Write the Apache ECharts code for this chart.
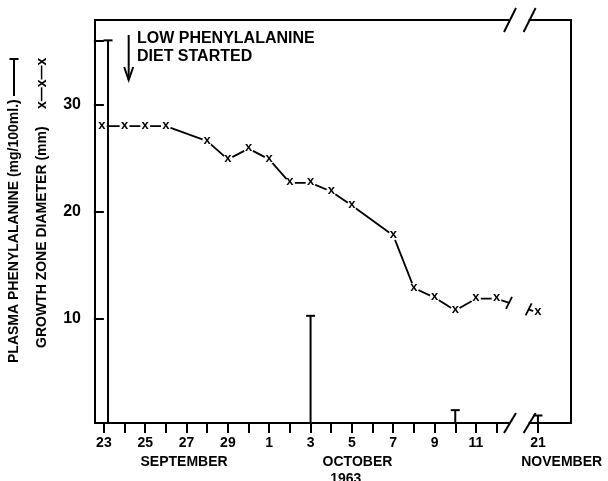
<!DOCTYPE html>
<html><head><meta charset="utf-8">
<script src="https://cdn.jsdelivr.net/npm/echarts@6/dist/echarts.min.js"></script>
<style>html,body{margin:0;padding:0;background:#fff}#c{width:608px;height:481px}</style>
</head><body><div id="c"></div>
<script>
// ---- data (x in day index: 0 = Sep 23, 8 = Oct 1, axis break after Oct 12, 21 = Nov 21) ----
const tickDays = [0,1,2,3,4,5,6,7,8,9,10,11,12,13,14,15,16,17,18,19,21];
const xLabelDays = [0,2,4,6,8,10,12,14,16,18,21];
const xLabelTexts = ['23','25','27','29','1','3','5','7','9','11','21'];
const yTickValues = [10,20,30,36];
const yLabelValues = [10,20,30];
const growthDays = [-0.1,1,2,3,5,6,7,8,9,10,11,12,14,15,16,17,18,19,21];
const growthMM = [28,28,28,28,26.6,24.9,25.9,24.9,22.7,22.7,21.9,20.6,17.8,12.9,12.0,10.8,11.9,11.9,10.6];
const pheDays = [0.2,10,17,21];
const pheValues = [36,10.3,1.5,1.0];
const monthNames = ['SEPTEMBER','OCTOBER','NOVEMBER'];
const monthCenters = [3.88,12.27,22.15];
const yearText = '1963';
const yearCenter = 11.7;
const breakStart = 19.6, breakEnd = 20.55;

(function(){
const FONT = '"Liberation Sans", Arial, sans-serif';
const chart = echarts.init(document.getElementById('c'), null, {renderer:'canvas'});
const X_MIN = -0.43, X_MAX = 22.6, Y_MIN = 0.3, Y_MAX = 37.9;

chart.setOption({
  animation:false,
  backgroundColor:'#fff',
  grid:{left:95,right:37,top:20,bottom:58,show:true,borderColor:'#000',borderWidth:2,backgroundColor:'transparent'},
  xAxis:{type:'value',min:X_MIN,max:X_MAX,
    axisLine:{show:false},
    splitLine:{show:false},
    axisTick:{show:true,customValues:tickDays,length:10,lineStyle:{color:'#000',width:2}},
    axisLabel:{customValues:xLabelDays,formatter:v=>xLabelTexts[xLabelDays.indexOf(v)],
      color:'#000',fontSize:14,fontWeight:'bold',fontFamily:FONT,margin:13}},
  yAxis:{type:'value',min:Y_MIN,max:Y_MAX,
    axisLine:{show:false},
    splitLine:{show:false},
    axisTick:{show:true,customValues:yTickValues,length:10,lineStyle:{color:'#000',width:2}},
    axisLabel:{customValues:yLabelValues,color:'#000',fontSize:16,fontWeight:'bold',fontFamily:FONT,margin:14}},
  series:[
    {type:'line',data:growthDays.map((d,i)=>[d,growthMM[i]]),
      symbol:'circle',symbolSize:10,itemStyle:{color:'#fff',borderWidth:0},
      lineStyle:{color:'#000',width:1.8},
      label:{show:true,position:'inside',formatter:'x',color:'#000',fontSize:13,fontWeight:'bold',fontFamily:FONT,offset:[0,-1]},
      z:3},
    {type:'custom',data:pheDays.map((d,i)=>[d,pheValues[i]]),
      renderItem:(params,api)=>{
        const x=api.value(0), v=api.value(1);
        const p0=api.coord([x,Y_MIN]), p1=api.coord([x,v]);
        return {type:'group',children:[
          {type:'line',shape:{x1:p0[0],y1:p0[1],x2:p1[0],y2:p1[1]},style:{stroke:'#000',lineWidth:2}},
          {type:'line',shape:{x1:p1[0]-4.5,y1:p1[1],x2:p1[0]+4.5,y2:p1[1]},style:{stroke:'#000',lineWidth:2}}
        ]};
      },z:2}
  ]
});

const P=(x,y)=>chart.convertToPixel({gridIndex:0},[x,y]);
const g=[];
const line=(x1,y1,x2,y2,w)=>g.push({type:'line',z:60,shape:{x1,y1,x2,y2},style:{stroke:'#000',lineWidth:w||2}});
const text=(x,y,t,font,align,va,rot)=>g.push({type:'text',z:60,x,y,rotation:rot||0,style:{text:t,font,fill:'#000',align:align||'left',verticalAlign:va||'top'}});

// axis break mask
const yTop=P(X_MIN,Y_MAX)[1], yBot=P(X_MIN,Y_MIN)[1];
const bx1=P(breakStart,0)[0], bx2=P(breakEnd,0)[0];
g.push({type:'rect',z:50,shape:{x:bx1,y:0,width:bx2-bx1,height:481},style:{fill:'#fff'}});
[bx1+1,bx2+1].forEach(x=>{ line(x-6,yTop+12,x+6,yTop-12,2); line(x-6,yBot+10,x+6,yBot-10,2); });
// break marks on the growth line
const n=growthDays.length;
const interp=d=>growthMM[n-2]+(growthMM[n-1]-growthMM[n-2])*(d-growthDays[n-2])/(growthDays[n-1]-growthDays[n-2]);
[[breakStart,interp(breakStart)],[breakEnd,interp(breakEnd)]].forEach(([d,v])=>{const p=P(d,v); line(p[0]-3,p[1]+6,p[0]+3,p[1]-6,1.8);});

// annotation
const a1=P(1.2,36.5), a2=P(1.2,32.3);
line(a1[0],a1[1],a2[0],a2[1],2);
g.push({type:'polyline',z:60,shape:{points:[[a2[0]-4.5,a2[1]-13],[a2[0],a2[1]],[a2[0]+4.5,a2[1]-13]]},style:{stroke:'#000',lineWidth:2,fill:null}});
const t1=P(1.6,36.95);
text(t1[0],t1[1],'LOW PHENYLALANINE','bold 16px '+FONT);
text(t1[0],t1[1]+18.5,'DIET STARTED','bold 16px '+FONT);

// month labels
monthNames.forEach((m,i)=>{const p=P(monthCenters[i],Y_MIN); text(p[0],yBot+32,m,'bold 14px '+FONT,'center','top');});
const yp=P(yearCenter,Y_MIN); text(yp[0],yBot+49,yearText,'bold 14px '+FONT,'center','top');

// y-axis titles (rotated)
text(14,363,'PLASMA PHENYLALANINE (mg/100ml.)','bold 14px '+FONT,'left','middle',Math.PI/2);
line(14,96,14,59,2); line(9.5,59,18.5,59,2);
text(42,348,'GROWTH ZONE DIAMETER (mm)','bold 14px '+FONT,'left','middle',Math.PI/2);
text(42,109,'x—x—x','bold 14px '+FONT,'left','middle',Math.PI/2);

chart.setOption({graphic:g});
})();
</script></body></html>
